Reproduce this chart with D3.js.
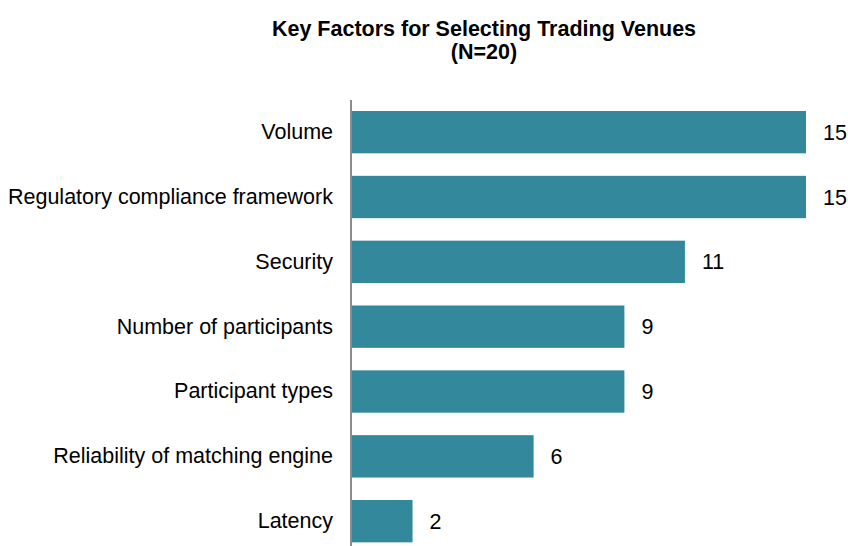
<!DOCTYPE html>
<html>
<head>
<meta charset="utf-8">
<script src="https://cdn.jsdelivr.net/npm/d3@7"></script>
<style>
  html, body { margin: 0; padding: 0; background: #fff; }
  svg { display: block; font-family: "Liberation Sans", Arial, sans-serif; }
</style>
</head>
<body>
<svg id="chart" width="848" height="546"></svg>
<script>
const categories = ["Volume", "Regulatory compliance framework", "Security", "Number of participants", "Participant types", "Reliability of matching engine", "Latency"];
const values = [15, 15, 11, 9, 9, 6, 2];
const titleLines = ["Key Factors for Selecting Trading Venues", "(N=20)"];

const svg = d3.select("#chart");
const x = d3.scaleLinear().domain([0, 15]).range([352, 806]);
const y = d3.scaleBand().domain(categories).range([99.75, 553.6]).paddingInner(0.347).paddingOuter(0.1735);
const fs = 21.5;

svg.selectAll("text.title").data(titleLines).join("text")
  .attr("class", "title")
  .attr("x", 484).attr("y", (d, i) => 36 + i * 23)
  .attr("text-anchor", "middle")
  .attr("font-size", fs).attr("font-weight", "bold").attr("fill", "#000")
  .text(d => d);

svg.selectAll("rect.bar").data(values).join("rect")
  .attr("class", "bar")
  .attr("x", x(0))
  .attr("y", (d, i) => y(categories[i]))
  .attr("width", d => x(d) - x(0))
  .attr("height", y.bandwidth())
  .attr("fill", "#33889c");

const yAxis = d3.axisLeft(y).tickSize(0).tickPadding(18);
const g = svg.append("g").attr("transform", `translate(351,0)`).call(yAxis);
g.select(".domain").attr("stroke", "#8c8c8c").attr("stroke-width", 2).attr("d", "M0,100V546");
g.selectAll(".tick text").attr("font-size", fs).attr("fill", "#000")
  .attr("font-family", "Liberation Sans, Arial, sans-serif");

svg.selectAll("text.val").data(values).join("text")
  .attr("class", "val")
  .attr("x", d => x(d) + 17)
  .attr("y", (d, i) => y(categories[i]) + y.bandwidth() / 2)
  .attr("dy", "0.35em")
  .attr("font-size", fs).attr("fill", "#000")
  .text(d => d);
</script>
</body>
</html>
